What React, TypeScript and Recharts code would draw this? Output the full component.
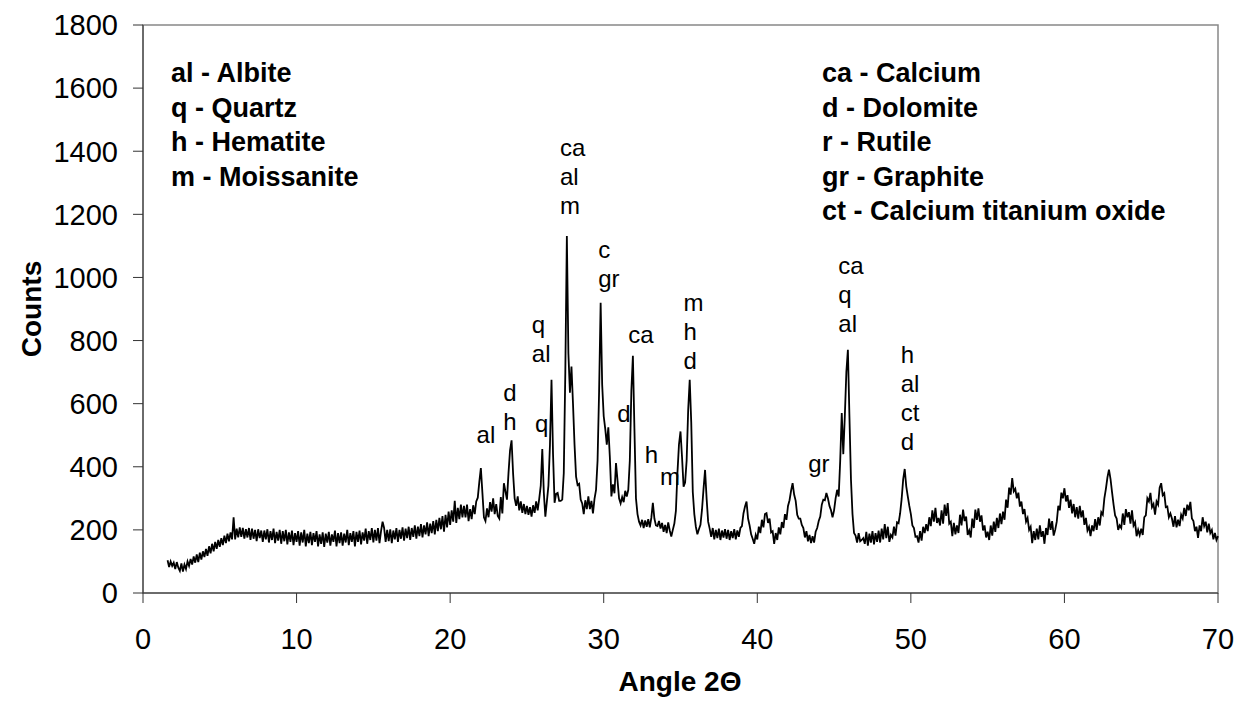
import React from "react";
import {
  ComposedChart,
  Line,
  Scatter,
  XAxis,
  YAxis,
  ReferenceArea,
} from "recharts";

// diffractogram, one reading every 0.1 degree from 1.6 to 70.0
const startAngle = 1.6;
const angleStep = 0.1;
const counts = [
  104, 82, 100, 86,
  96, 76, 98, 80, 70, 94, 68, 90, 76, 100,
  86, 108, 90, 116, 96, 122, 98, 128, 106, 132,
  114, 140, 118, 148, 126, 156, 132, 162, 140, 168,
  146, 174, 152, 182, 158, 188, 164, 192, 170, 240,
  170, 204, 176, 208, 178, 206, 172, 202, 176, 206,
  168, 204, 172, 200, 164, 202, 174, 198, 162, 198,
  170, 202, 160, 196, 168, 204, 158, 194, 166, 200,
  156, 196, 164, 200, 154, 192, 162, 198, 152, 190,
  162, 196, 150, 192, 160, 200, 148, 188, 158, 194,
  152, 190, 162, 196, 148, 186, 156, 192, 146, 188,
  160, 194, 150, 186, 162, 198, 148, 190, 158, 192,
  150, 188, 160, 200, 152, 190, 162, 196, 148, 194,
  162, 198, 154, 192, 166, 204, 156, 196, 168, 206,
  160, 200, 166, 206, 158, 196, 226, 206, 162, 200,
  164, 202, 158, 198, 170, 206, 162, 200, 172, 208,
  166, 204, 174, 210, 168, 206, 178, 214, 172, 210,
  180, 218, 176, 214, 186, 224, 180, 220, 190, 228,
  186, 232, 196, 238, 202, 244, 194, 248, 208, 258,
  216, 262, 226, 292, 222, 270, 234, 280, 240, 276,
  240, 280, 228, 266, 234, 278, 250, 290, 302, 352,
  396, 318, 240, 228, 268, 240, 288, 258, 300, 250,
  282, 244, 236, 304, 252, 348, 322, 296, 380, 452,
  484, 378, 300, 276, 306, 262, 290, 254, 282, 250,
  276, 248, 272, 242, 278, 254, 290, 262, 298, 340,
  456, 318, 242, 290, 340, 470, 676, 440, 286, 314,
  317, 292, 292, 296, 380, 700, 1131, 760, 635, 718,
  600, 470, 369, 342, 346, 296, 284, 250, 294, 266,
  306, 266, 292, 252, 298, 327, 420, 640, 920, 660,
  560, 520, 470, 525, 430, 306, 344, 316, 412, 356,
  300, 284, 304, 288, 324, 306, 327, 420, 640, 752,
  520, 300, 250, 226, 214, 232, 206, 230, 210, 234,
  208, 238, 286, 236, 214, 212, 228, 204, 222, 194,
  216, 190, 224, 198, 179, 200, 220, 260, 380, 470,
  512, 430, 337, 350, 420, 580, 676, 540, 320, 250,
  210, 186, 202, 216, 264, 330, 390, 300, 226, 204,
  178, 206, 170, 200, 174, 204, 168, 198, 176, 202,
  172, 200, 168, 196, 174, 202, 170, 198, 178, 206,
  212, 252, 274, 290, 236, 214, 186, 172, 156, 184,
  170, 210, 190, 232, 208, 250, 253, 222, 236, 192,
  196, 156, 190, 168, 208, 186, 225, 206, 250, 232,
  276, 294, 324, 348, 312, 292, 248, 236, 236, 216,
  206, 176, 196, 164, 184, 158, 180, 160, 194, 206,
  228, 242, 280, 296, 294, 317, 300, 276, 262, 240,
  262, 300, 327, 306, 420, 570, 440, 560, 700, 771,
  560, 360, 250, 190, 182, 160, 190, 164, 168, 174,
  156, 194, 150, 188, 160, 196, 154, 190, 162, 198,
  160, 204, 170, 218, 174, 210, 162, 184, 176, 210,
  182, 224, 221, 252, 298, 360, 393, 338, 306, 276,
  250, 214, 206, 178, 180, 160, 196, 166, 210, 190,
  218, 196, 240, 212, 262, 226, 270, 222, 238, 214,
  262, 220, 280, 244, 285, 220, 226, 180, 222, 186,
  214, 190, 248, 214, 264, 228, 242, 184, 198, 176,
  236, 206, 264, 232, 268, 226, 246, 198, 214, 176,
  194, 168, 214, 182, 226, 194, 238, 206, 252, 218,
  258, 232, 296, 270, 334, 312, 364, 322, 330, 300,
  318, 274, 290, 250, 266, 226, 238, 200, 210, 158,
  196, 168, 204, 170, 214, 178, 196, 156, 206, 184,
  236, 200, 228, 182, 200, 226, 276, 262, 318, 300,
  332, 290, 310, 270, 296, 252, 282, 240, 272, 236,
  276, 240, 262, 216, 238, 198, 210, 180, 214, 196,
  234, 200, 240, 214, 256, 248, 300, 330, 366, 391,
  362, 320, 280, 246, 236, 200, 214, 206, 252, 216,
  266, 240, 256, 220, 262, 214, 224, 180, 200, 183,
  204, 184, 240, 246, 300, 290, 317, 272, 282, 248,
  290, 280, 334, 348, 310, 316, 272, 274, 240, 252,
  236, 210, 244, 208, 232, 212, 248, 236, 270, 244,
  280, 262, 289, 236, 228, 196, 210, 175, 214, 196,
  240, 212, 226, 192, 220, 190, 200, 170, 190, 168,
  180,
];

const xTicks = [0, 10, 20, 30, 40, 50, 60, 70];
const yTicks = [0, 200, 400, 600, 800, 1000, 1200, 1400, 1600, 1800];

// phase labels: left edge angle, count at the lowest line
const peakLabels = [
  { angle: 21.72, count: 496, lines: ["al"] },
  { angle: 23.45, count: 539, lines: ["d", "h"] },
  { angle: 25.52, count: 533, lines: ["q"] },
  { angle: 25.32, count: 755, lines: ["q", "al"] },
  { angle: 27.15, count: 1224, lines: ["ca", "al", "m"] },
  { angle: 29.64, count: 992, lines: ["c", "gr"] },
  { angle: 31.6, count: 815, lines: ["ca"] },
  { angle: 30.88, count: 565, lines: ["d"] },
  { angle: 32.68, count: 433, lines: ["h"] },
  { angle: 33.66, count: 365, lines: ["m"] },
  { angle: 35.2, count: 733, lines: ["m", "h", "d"] },
  { angle: 43.32, count: 406, lines: ["gr"] },
  { angle: 45.28, count: 850, lines: ["ca", "q", "al"] },
  { angle: 49.34, count: 476, lines: ["h", "al", "ct", "d"] },
];

const phasesLeft = ["al - Albite", "q - Quartz", "h - Hematite", "m - Moissanite"];
const phasesRight = [
  "ca - Calcium",
  "d - Dolomite",
  "r - Rutile",
  "gr - Graphite",
  "ct - Calcium titanium oxide",
];

const pattern = counts.map((c, i) => ({
  angle: Math.round((startAngle + i * angleStep) * 10) / 10,
  count: c,
}));

const font = '"Liberation Sans", Arial, sans-serif';

function PeakLabel(props: any) {
  const { cx, cy, payload } = props;
  const n = payload.lines.length;
  return (
    <g>
      {payload.lines.map((t: string, k: number) => (
        <text
          key={k}
          x={cx}
          y={cy + 7 - (n - 1 - k) * 29}
          fontSize={24}
          fontFamily={font}
          fill="#000"
          textAnchor="start"
        >
          {t}
        </text>
      ))}
    </g>
  );
}

const legendStyle: React.CSSProperties = {
  position: "absolute",
  top: 56,
  fontFamily: font,
  fontWeight: "bold",
  fontSize: 27,
  lineHeight: "34.5px",
  whiteSpace: "nowrap",
};

export default function App() {
  return (
    <div
      style={{
        position: "absolute",
        left: 0,
        top: 0,
        width: 1251,
        height: 707,
        background: "#fff",
        fontFamily: font,
      }}
    >
      <ComposedChart
        width={1251}
        height={707}
        data={pattern}
        margin={{ top: 25, right: 33, bottom: 0, left: 0 }}
      >
        <ReferenceArea
          x1={0}
          x2={70}
          y1={0}
          y2={1800}
          fill="none"
          stroke="#888"
          strokeWidth={1.5}
        />
        <XAxis
          type="number"
          dataKey="angle"
          domain={[0, 70]}
          ticks={xTicks}
          height={114}
          tickSize={10}
          tickMargin={25}
          stroke="#333"
          tick={{ fontSize: 29, fill: "#000", fontFamily: font }}
        />
        <YAxis
          type="number"
          domain={[0, 1800]}
          ticks={yTicks}
          width={143}
          tickSize={10}
          tickMargin={15}
          stroke="#333"
          tick={{ fontSize: 29, fill: "#000", fontFamily: font }}
        />
        <Line
          type="linear"
          dataKey="count"
          stroke="#000"
          strokeWidth={1.8}
          dot={false}
          isAnimationActive={false}
        />
        <Scatter
          data={peakLabels}
          dataKey="count"
          shape={PeakLabel}
          isAnimationActive={false}
        />
      </ComposedChart>

      <div style={{ ...legendStyle, left: 171 }}>
        {phasesLeft.map((p) => (
          <div key={p}>{p}</div>
        ))}
      </div>
      <div style={{ ...legendStyle, left: 822 }}>
        {phasesRight.map((p) => (
          <div key={p}>{p}</div>
        ))}
      </div>

      <div
        style={{
          position: "absolute",
          left: 32,
          top: 309,
          transform: "translate(-50%, -50%) rotate(-90deg)",
          fontWeight: "bold",
          fontSize: 28,
          lineHeight: 1,
          whiteSpace: "nowrap",
        }}
      >
        Counts
      </div>
      <div
        style={{
          position: "absolute",
          left: 680,
          top: 682,
          transform: "translate(-50%, -50%)",
          fontWeight: "bold",
          fontSize: 28,
          lineHeight: 1,
          whiteSpace: "nowrap",
        }}
      >
        Angle 2Θ
      </div>
    </div>
  );
}
